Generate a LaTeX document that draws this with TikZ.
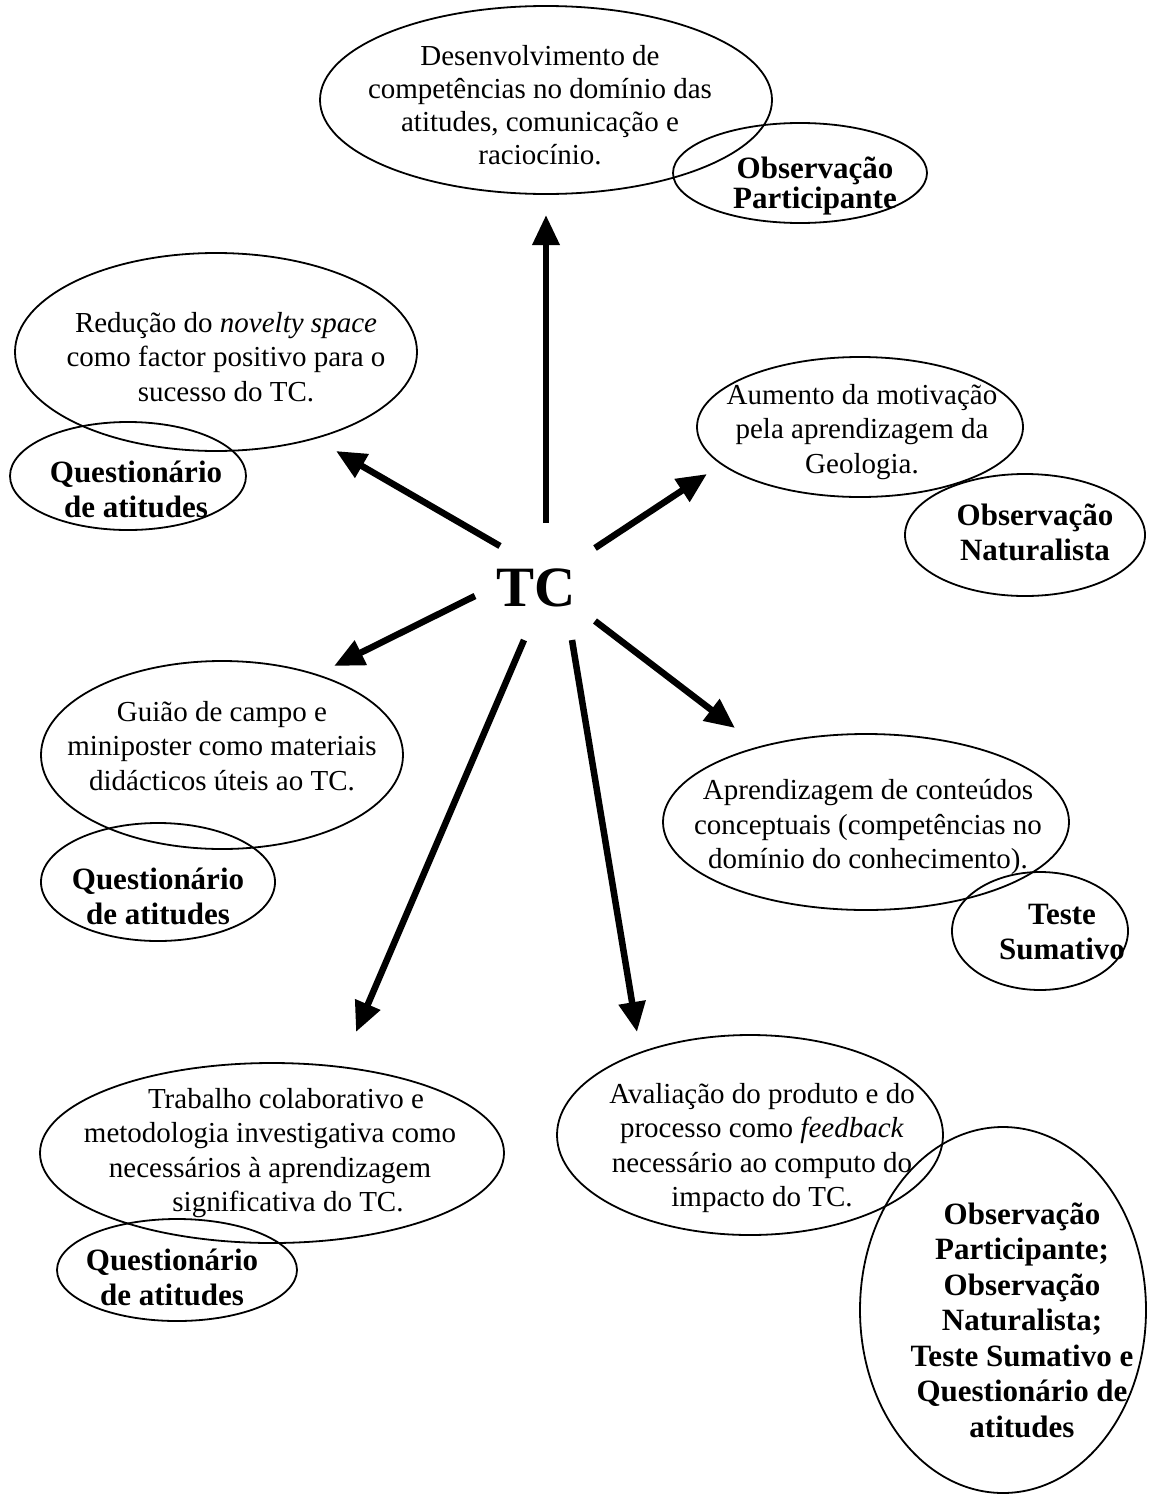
\documentclass[tikz,border=0pt]{standalone}
\usepackage{fontspec}
\setmainfont{Liberation Serif}
\usetikzlibrary{shapes.geometric,arrows.meta}
\begin{document}
\begin{tikzpicture}[x=1pt,y=-1pt,
  oval/.style={draw, ellipse, line width=1.8pt, inner sep=0pt},
  txt/.style={align=center, inner sep=0pt, font=\fontsize{29}{34.5}\selectfont},
  btxt/.style={align=center, inner sep=0pt, font=\fontsize{31}{35}\selectfont\bfseries},
  arr/.style={line width=6.5pt, -{Triangle[length=30pt,width=26pt]}}]
\useasboundingbox (0,0) rectangle (1170,1499);

% central label
\node[inner sep=0pt, font=\fontsize{57}{57}\selectfont\bfseries] (tc) at (536,588) {TC};

% outcome ellipses
\node[oval, minimum width=452, minimum height=188] (e1) at (546,100) {};
\node[oval, minimum width=254, minimum height=100] (m1) at (800,173) {};
\node[oval, minimum width=402, minimum height=198] (e2) at (216,352) {};
\node[oval, minimum width=236, minimum height=108] (m2) at (128,476) {};
\node[oval, minimum width=326, minimum height=140] (e3) at (860,427) {};
\node[oval, minimum width=240, minimum height=122] (m3) at (1025,535) {};
\node[oval, minimum width=362, minimum height=188] (e4) at (222,755) {};
\node[oval, minimum width=234, minimum height=118] (m4) at (158,882) {};
\node[oval, minimum width=406, minimum height=176] (e5) at (866,822) {};
\node[oval, minimum width=176, minimum height=118] (m5) at (1040,931) {};
\node[oval, minimum width=464, minimum height=180] (e6) at (272,1153) {};
\node[oval, minimum width=240, minimum height=102] (m6) at (177,1270) {};
\node[oval, minimum width=386, minimum height=200] (e7) at (750,1135) {};
\node[oval, minimum width=286, minimum height=366] (m7) at (1003,1310) {};

% texts of the outcomes
\node[txt, font=\fontsize{29}{33}\selectfont] (t1) at (540,105) {Desenvolvimento de\\competências no domínio das\\atitudes, comunicação e\\raciocínio.};
\node[txt] (t2) at (226,357) {Redução do \textit{novelty space}\\como factor positivo para o\\sucesso do TC.};
\node[txt] (t3) at (862,432) {Aumento da motivação\\pela aprendizagem da\\Geologia.};
\node[txt] (t4) at (222,746) {Guião de campo e\\miniposter como materiais\\didácticos úteis ao TC.};
\node[txt] (t5) at (868,827) {Aprendizagem de conteúdos\\conceptuais (competências no\\domínio do conhecimento).};
\node[txt] (t6) at (270,1153) {\hspace*{32pt}Trabalho colaborativo e\\metodologia investigativa como\\necessários à aprendizagem\\\hspace*{36pt}significativa do TC.};
\node[txt] (t7) at (762,1148) {Avaliação do produto e do\\processo como \textit{feedback}\\necessário ao computo do\\impacto do TC.};

% texts of the instruments
\node[btxt, font=\fontsize{31}{30}\selectfont\bfseries] (i1) at (815,186) {Observação\\Participante};
\node[btxt] (i2) at (136,489) {Questionário\\de atitudes};
\node[btxt] (i3) at (1035,532) {Observação\\Naturalista};
\node[btxt] (i4) at (158,896) {Questionário\\de atitudes};
\node[btxt] (i5) at (1062,932) {Teste\\Sumativo};
\node[btxt] (i6) at (172,1277) {Questionário\\de atitudes};
\node[btxt, font=\fontsize{31}{35.5}\selectfont\bfseries] (i7) at (1022,1320) {Observação\\Participante;\\Observação\\Naturalista;\\Teste Sumativo e\\Questionário de\\atitudes};

% arrow ends
\coordinate (s1) at (546,523); \coordinate (p1) at (546,215);
\coordinate (s2) at (500,546); \coordinate (p2) at (336,451);
\coordinate (s3) at (595,548); \coordinate (p3) at (707,474);
\coordinate (s4) at (475,596); \coordinate (p4) at (334,666);
\coordinate (s5) at (595,621); \coordinate (p5) at (735,728);
\coordinate (s6) at (524,640); \coordinate (p6) at (356,1032);
\coordinate (s7) at (572,640); \coordinate (p7) at (637,1032);

\draw[arr] (s1) -- (p1);
\draw[arr] (s2) -- (p2);
\draw[arr] (s3) -- (p3);
\draw[arr] (s4) -- (p4);
\draw[arr] (s5) -- (p5);
\draw[arr] (s6) -- (p6);
\draw[arr] (s7) -- (p7);
\end{tikzpicture}
\end{document}
